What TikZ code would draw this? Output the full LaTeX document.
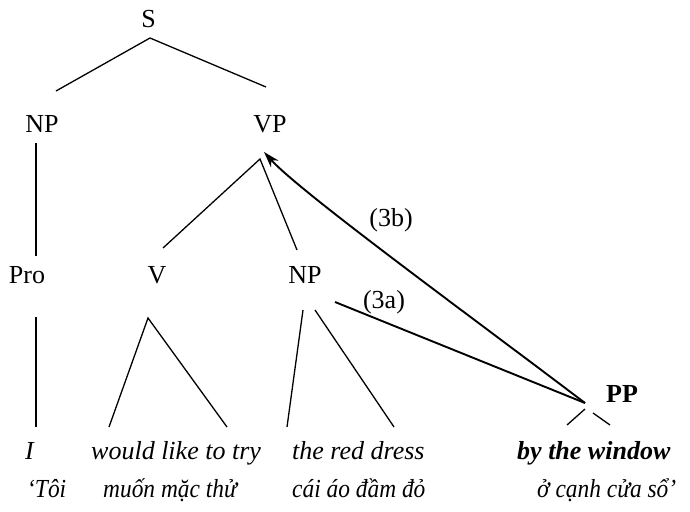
\documentclass[tikz,border=0pt]{standalone}
\usepackage{fontspec}
\setmainfont{Liberation Serif}
\newfontfamily\vnfont{Liberation Serif}[FakeStretch=0.9]
\usetikzlibrary{arrows.meta}
\begin{document}
\begin{tikzpicture}[x=1pt,y=-1pt,
  lbl/.style={inner sep=0pt,anchor=base,font=\fontsize{26}{31}\selectfont},
  word/.style={inner sep=0pt,anchor=base west,font=\fontsize{26}{31}\selectfont\itshape},
  gloss/.style={inner sep=0pt,anchor=base west,font=\fontsize{26}{31}\vnfont\itshape},
  branch/.style={line width=1.3pt},
  move/.style={line width=1.9pt}]
\useasboundingbox (0,0) rectangle (690,511);
% category labels
\node[lbl] (S) at (148.5,28) {S};
\node[lbl] (NPa) at (42,132) {NP};
\node[lbl] (VP) at (270,132) {VP};
\node[lbl] (Pro) at (27,283) {Pro};
\node[lbl] (V) at (157,283) {V};
\node[lbl] (NPb) at (305,283) {NP};
\node[lbl,font=\fontsize{26}{31}\selectfont\bfseries] (PP) at (622,402) {PP};
\node[lbl] (l3a) at (384,308) {(3a)};
\node[lbl] (l3b) at (391,226) {(3b)};
% words
\node[word] (w1) at (25,459) {I};
\node[word] (w2) at (91,459) {would like to try};
\node[word] (w3) at (292,459) {the red dress};
\node[word,font=\fontsize{26}{31}\selectfont\bfseries\itshape] (w4) at (517,459) {by the window};
\node[gloss] (g1) at (27,497) {‘Tôi};
\node[gloss] (g2) at (103,497) {muốn mặc thử};
\node[gloss] (g3) at (292,497) {cái áo đầm đỏ};
\node[gloss] (g4) at (537,497) {ở cạnh cửa sổ’};
% branch points
\coordinate (S-b) at (150,38);
\coordinate (NPa-t) at (56,91);
\coordinate (VP-t) at (266,87);
\coordinate (NPa-b) at (36,143);
\coordinate (Pro-t) at (36,256);
\coordinate (VP-b) at (260,159);
\coordinate (V-t) at (163,248);
\coordinate (NPb-t) at (297,250);
\coordinate (Pro-b) at (36,317);
\coordinate (w1-t) at (36,427);
\coordinate (V-b) at (148,318);
\coordinate (w2-l) at (109,427);
\coordinate (w2-r) at (227,427);
\coordinate (NPb-bl) at (303,310);
\coordinate (NPb-br) at (315,310);
\coordinate (w3-l) at (287,427);
\coordinate (w3-r) at (394,427);
\coordinate (NPb-m) at (335,302);
\coordinate (PP-t) at (585,403);
\coordinate (PP-bl) at (585,409);
\coordinate (PP-br) at (593,413);
\coordinate (w4-l) at (567,425);
\coordinate (w4-r) at (610,425);
\coordinate (VP-m) at (264,152);
% tree
\draw[branch] (NPa-t) -- (S-b) -- (VP-t);
\draw[branch] (NPa-b) -- (Pro-t);
\draw[branch] (V-t) -- (VP-b) -- (NPb-t);
\draw[branch] (Pro-b) -- (w1-t);
\draw[branch] (w2-l) -- (V-b) -- (w2-r);
\draw[branch] (NPb-bl) -- (w3-l);
\draw[branch] (NPb-br) -- (w3-r);
\draw[branch] (PP-bl) -- (w4-l);
\draw[branch] (PP-br) -- (w4-r);
% movement
\draw[move] (NPb-m) -- (PP-t);
\draw[move,-{Stealth[length=16pt,width=10pt,inset=5pt]}] (PP-t) .. controls (473,318) and (300,192) .. (VP-m);
\end{tikzpicture}
\end{document}
